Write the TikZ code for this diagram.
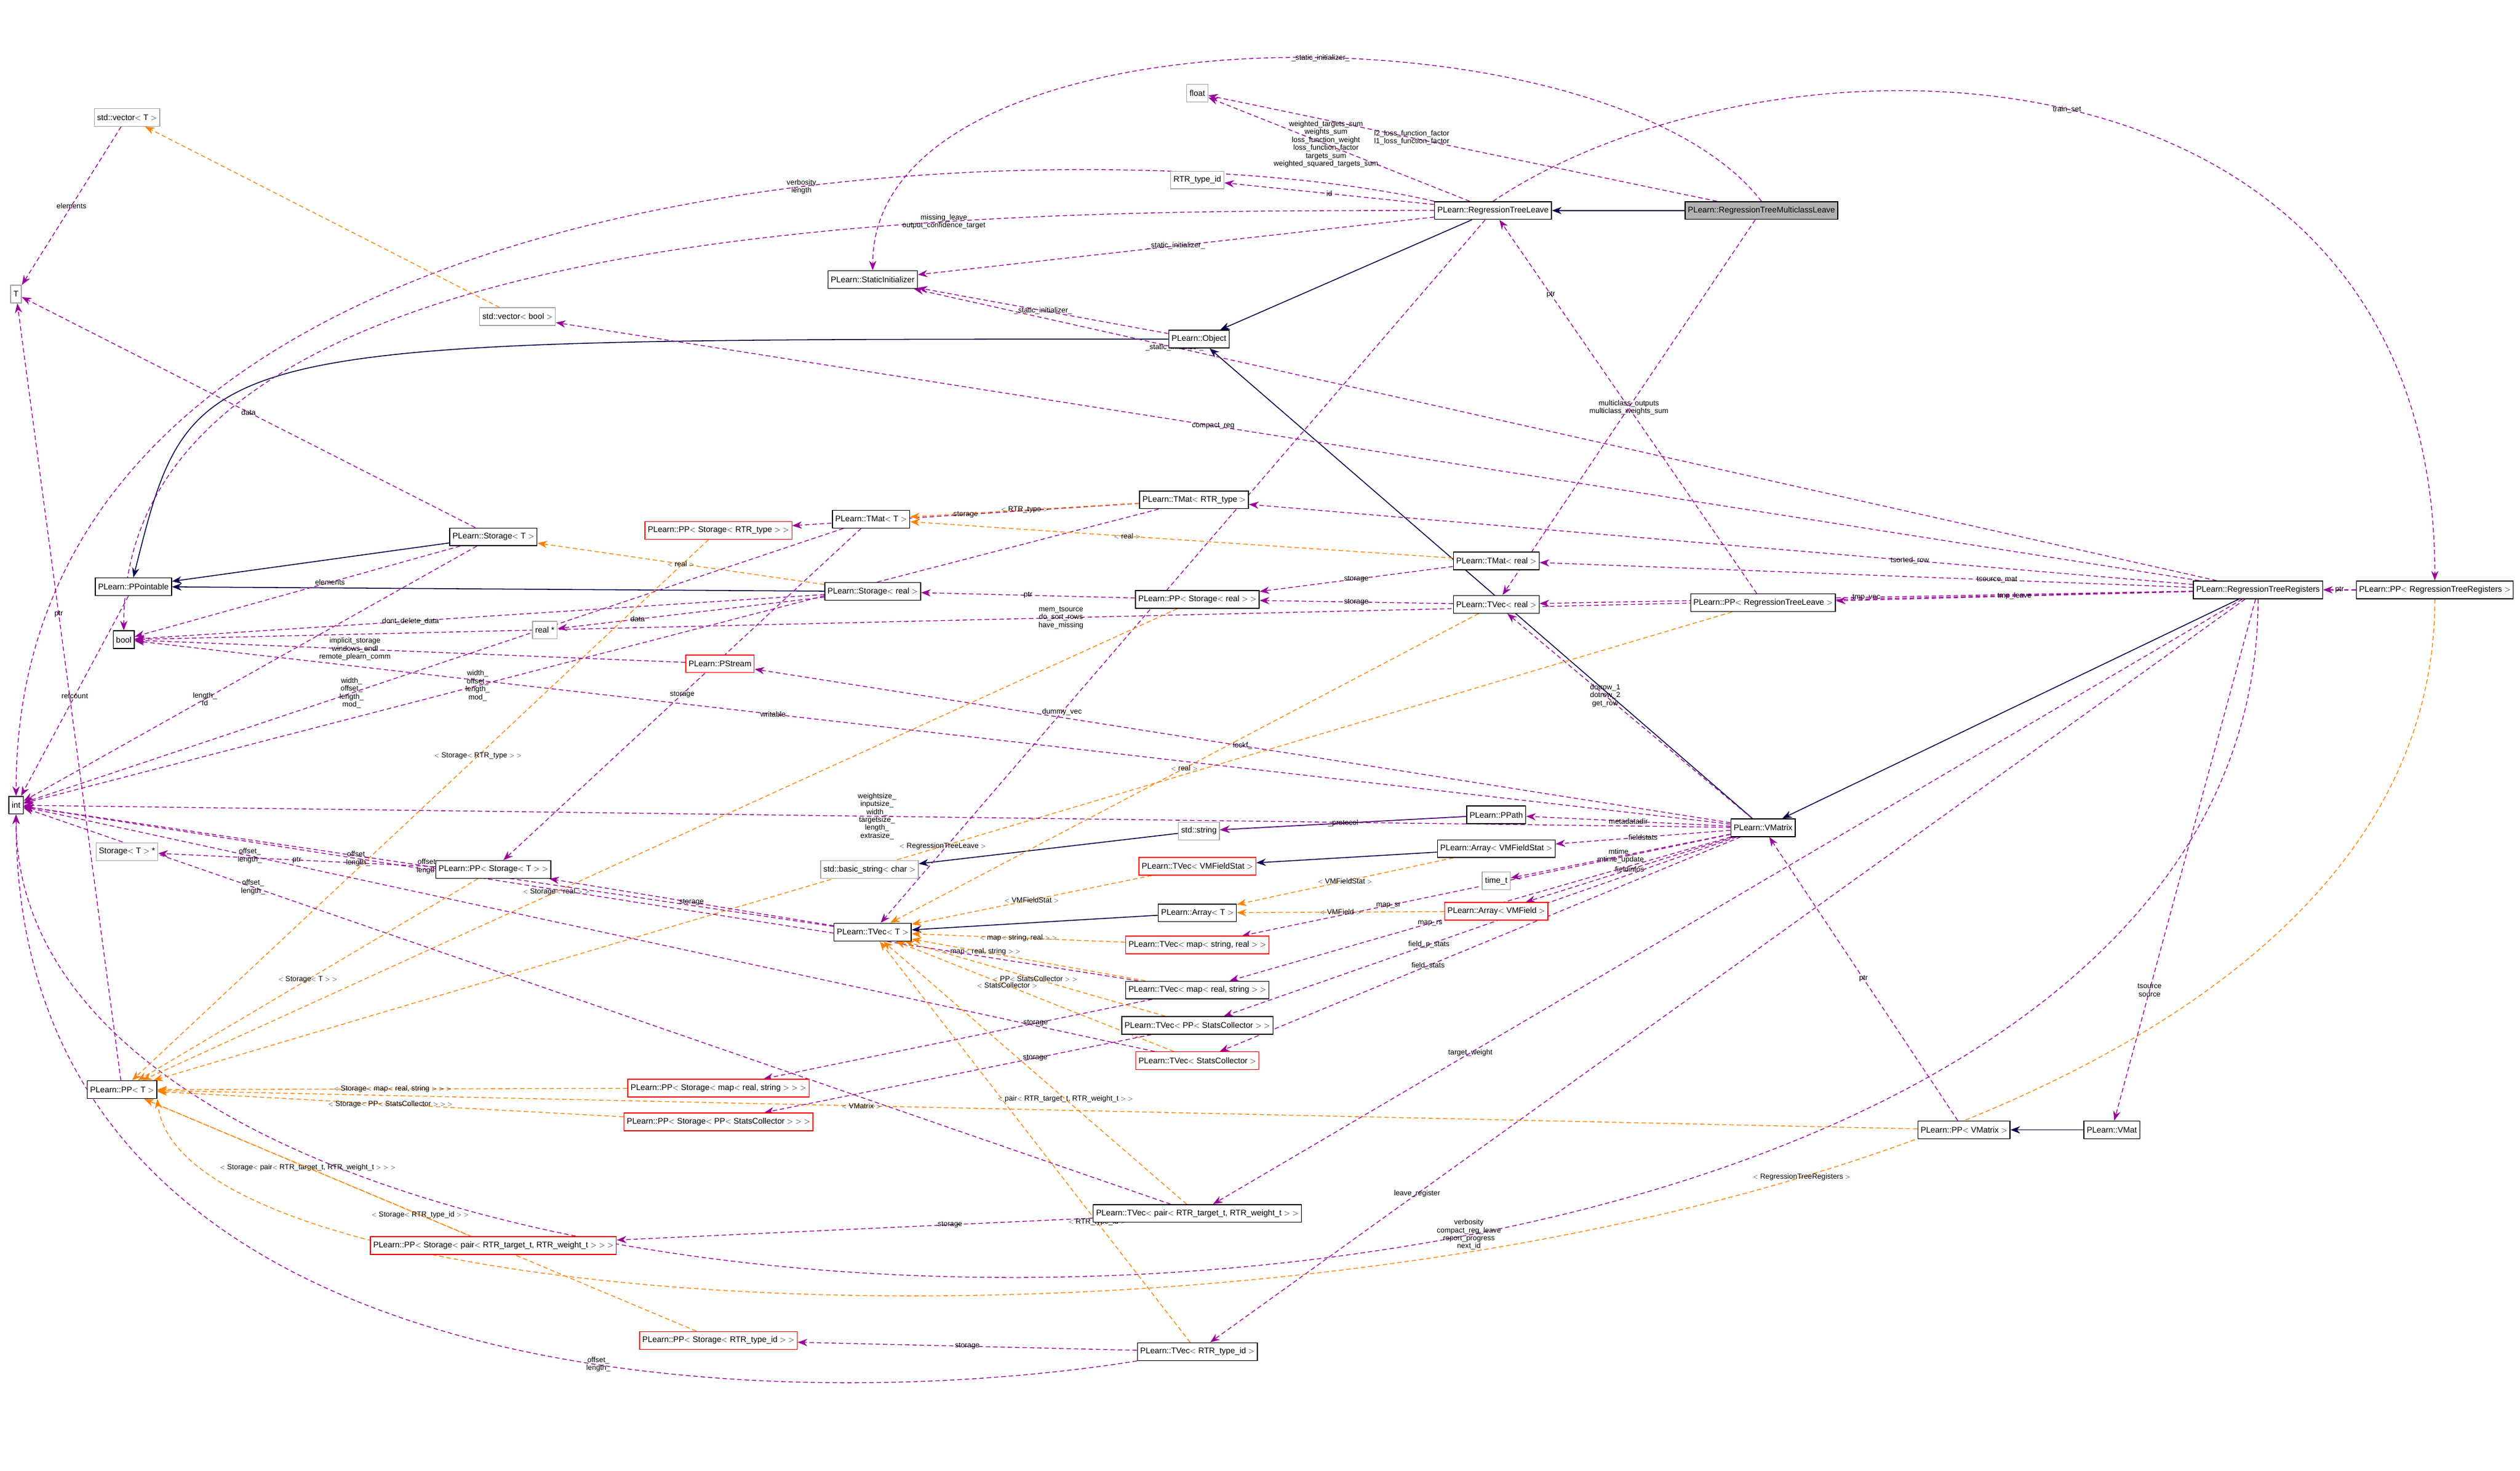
\documentclass[tikz,border=0pt]{standalone}
\usepackage{fontspec}
\setmainfont{Liberation Sans}
\usetikzlibrary{arrows.meta}
\pgfdeclarelayer{bg}
\pgfsetlayers{bg,main}
\begin{document}
\begin{tikzpicture}[x=0.1cm,y=-0.1cm,
 bx/.style={draw=black,fill=white,line width=1.5pt,inner sep=5pt,minimum height=1.1cm,font=\fontsize{14.5}{16}\selectfont},
 rbx/.style={bx,draw=red},
 gbx/.style={bx,draw=gray!70},
 hbx/.style={bx,fill=gray!60},
 u/.style={draw=violet!80!magenta,dashed,dash pattern=on 8pt off 5pt,line width=1.4pt,-{Stealth[length=0.6cm,width=0.45cm]}},
 o/.style={draw=orange,dashed,dash pattern=on 8pt off 5pt,line width=1.4pt,-{Stealth[length=0.6cm,width=0.45cm]}},
 inh/.style={draw=blue!30!black,line width=1.6pt,-{Stealth[length=0.6cm,width=0.45cm]}},
 lbl/.style={font=\fontsize{13}{14}\selectfont,align=center,inner sep=1pt}]
\useasboundingbox (0,0) rectangle (1568,915);
% nodes
\node[hbx] (mcl) at (1096,131) {PLearn::RegressionTreeMulticlassLeave};
\node[bx] (rtl) at (929,131) {PLearn::RegressionTreeLeave};
\node[gbx] (flt) at (745,58) {float};
\node[gbx] (rid) at (745,112) {RTR\_type\_id};
\node[bx] (si) at (543,174) {PLearn::StaticInitializer};
\node[bx] (obj) at (746,211) {PLearn::Object};
\node[gbx] (vecT) at (79,73) {std::vector$<$ T $>$};
\node[gbx] (T) at (10,183) {T};
\node[gbx] (vecb) at (322,197) {std::vector$<$ bool $>$};
\node[bx] (tmr) at (743,311) {PLearn::TMat$<$ RTR\_type $>$};
\node[bx] (tmT) at (542,323) {PLearn::TMat$<$ T $>$};
\node[rbx] (ppsr) at (447,330) {PLearn::PP$<$ Storage$<$ RTR\_type $>$ $>$};
\node[bx] (stT) at (307,334) {PLearn::Storage$<$ T $>$};
\node[bx] (ppt) at (83,365) {PLearn::PPointable};
\node[bx] (streal) at (543,368) {PLearn::Storage$<$ real $>$};
\node[bx] (ppsreal) at (745,373) {PLearn::PP$<$ Storage$<$ real $>$ $>$};
\node[bx] (tmreal) at (931,349) {PLearn::TMat$<$ real $>$};
\node[bx] (tvreal) at (931,376) {PLearn::TVec$<$ real $>$};
\node[bx] (pprtl) at (1097,375) {PLearn::PP$<$ RegressionTreeLeave $>$};
\node[bx] (rtr) at (1405,367) {PLearn::RegressionTreeRegisters};
\node[bx] (pprtr) at (1515,367) {PLearn::PP$<$ RegressionTreeRegisters $>$};
\node[bx] (bool) at (77,398) {bool};
\node[gbx] (realp) at (339,392) {real *};
\node[rbx] (pst) at (448,413) {PLearn::PStream};
\node[bx] (int) at (10,501) {int};
\node[bx] (ppath) at (931,507) {PLearn::PPath};
\node[gbx] (str) at (746,517) {std::string};
\node[bx] (avfs) at (931,528) {PLearn::Array$<$ VMFieldStat $>$};
\node[bx] (vm) at (1097,515) {PLearn::VMatrix};
\node[gbx] (stTp) at (79,530) {Storage$<$ T $>$ *};
\node[bx] (ppsT) at (307,541) {PLearn::PP$<$ Storage$<$ T $>$ $>$};
\node[gbx] (bstr) at (541,541) {std::basic\_string$<$ char $>$};
\node[rbx] (tvfs) at (745,539) {PLearn::TVec$<$ VMFieldStat $>$};
\node[gbx] (timet) at (931,548) {time\_t};
\node[bx] (arT) at (745,568) {PLearn::Array$<$ T $>$};
\node[rbx] (avf) at (931,567) {PLearn::Array$<$ VMField $>$};
\node[bx] (tvT) at (543,580) {PLearn::TVec$<$ T $>$};
\node[rbx] (tvmsr) at (745,588) {PLearn::TVec$<$ map$<$ string, real $>$ $>$};
\node[bx] (tvmrs) at (745,616) {PLearn::TVec$<$ map$<$ real, string $>$ $>$};
\node[bx] (tvpsc) at (745,638) {PLearn::TVec$<$ PP$<$ StatsCollector $>$ $>$};
\node[rbx] (tvsc) at (745,660) {PLearn::TVec$<$ StatsCollector $>$};
\node[bx] (ppT) at (76,678) {PLearn::PP$<$ T $>$};
\node[rbx] (ppsmrs) at (447,677) {PLearn::PP$<$ Storage$<$ map$<$ real, string $>$ $>$ $>$};
\node[rbx] (ppspsc) at (447,698) {PLearn::PP$<$ Storage$<$ PP$<$ StatsCollector $>$ $>$ $>$};
\node[bx] (ppvm) at (1222,703) {PLearn::PP$<$ VMatrix $>$};
\node[bx] (vmat) at (1314,703) {PLearn::VMat};
\node[bx] (tvpair) at (745,755) {PLearn::TVec$<$ pair$<$ RTR\_target\_t, RTR\_weight\_t $>$ $>$};
\node[rbx] (ppspair) at (307,775) {PLearn::PP$<$ Storage$<$ pair$<$ RTR\_target\_t, RTR\_weight\_t $>$ $>$ $>$};
\node[rbx] (ppsrid) at (447,834) {PLearn::PP$<$ Storage$<$ RTR\_type\_id $>$ $>$};
\node[bx] (tvrid) at (745,841) {PLearn::TVec$<$ RTR\_type\_id $>$};
\begin{pgfonlayer}{bg}
% inheritance
\draw[inh] (mcl) -- (rtl);
\draw[inh] (rtl) -- (obj);
\draw[inh] (vm) -- (obj);
\draw[inh] (rtr) -- (vm);
\draw[inh] (obj.west) .. controls (120,211) .. (ppt.north);
\draw[inh] (stT) -- (ppt);
\draw[inh] (streal) -- (ppt);
\draw[inh] (ppath) -- (str);
\draw[inh] (str) -- (bstr);
\draw[inh] (avfs) -- (tvfs);
\draw[inh] (arT) -- (tvT);
\draw[inh] (vmat) -- (ppvm);
% usage from leaves
\draw[u] (mcl) -- node[lbl,pos=0.6]{l2\_loss\_function\_factor\\l1\_loss\_function\_factor} (flt);
\draw[u] (mcl.north) .. controls (1000,0) and (543,0) .. node[lbl,pos=0.45]{\_static\_initializer\_} (si.north);
\draw[u] (mcl) -- node[lbl,pos=0.5]{multiclass\_outputs\\multiclass\_weights\_sum} (tvreal);
\draw[u] (rtl) -- node[lbl,pos=0.55]{weighted\_targets\_sum\\weights\_sum\\loss\_function\_weight\\loss\_function\_factor\\targets\_sum\\weighted\_squared\_targets\_sum} (flt);
\draw[u] (rtl) -- node[lbl]{id} (rid);
\draw[u] (rtl) -- node[lbl]{\_static\_initializer\_} (si);
\draw[u] (rtl.north west) .. controls (700,80) and (10,80) .. node[lbl,pos=0.4]{verbosity\\length} (int.north);
\draw[u] (rtl.west) .. controls (600,131) and (77,131) .. node[lbl,pos=0.3]{missing\_leave\\output\_confidence\_target} (bool.north);
\draw[u] (rtl.north) .. controls (1100,10) and (1515,10) .. node[lbl,pos=0.5]{train\_set} (pprtr.north);
\draw[u] (rtl) -- node[lbl,pos=0.7]{dummy\_vec} (tvT);
\draw[u] (obj) -- node[lbl]{\_static\_initializer\_} (si);
\draw[u] (pprtl) -- node[lbl,pos=0.8]{ptr} (rtl);
% registers
\draw[u] (rtr) -- node[lbl,pos=0.8]{\_static\_initializer\_} (si);
\draw[u] (rtr) -- node[lbl,pos=0.3]{tsorted\_row} (tmr);
\draw[u] (rtr) -- node[lbl,pos=0.3]{tsource\_mat} (tmreal);
\draw[u] (rtr) -- node[lbl,pos=0.5]{tmp\_vec} (tvreal);
\draw[u] (rtr) -- node[lbl]{tmp\_leave} (pprtl);
\draw[u] (rtr) -- node[lbl,pos=0.75]{tsource\\source} (vmat);
\draw[u] (rtr) -- node[lbl,pos=0.75]{target\_weight} (tvpair);
\draw[u] (rtr) -- node[lbl,pos=0.8]{leave\_register} (tvrid);
\draw[u] (rtr.south) .. controls (1405,910) and (10,910) .. node[lbl,pos=0.4]{verbosity\\compact\_reg\_leave\\report\_progress\\next\_id} (int.south);
\draw[u] (rtr) -- node[lbl,pos=0.6]{compact\_reg} (vecb);
\draw[u] (rtr) -- node[lbl,pos=0.55]{mem\_tsource\\do\_sort\_rows\\have\_missing} (bool);
\draw[u] (pprtr) -- node[lbl]{ptr} (rtr);
\draw[o] (pprtr.south) .. controls (1515,880) and (120,880) .. node[lbl,pos=0.35]{$<$ RegressionTreeRegisters $>$} (ppT.south east);
\draw[o] (pprtl) -- node[lbl,pos=0.5]{$<$ RegressionTreeLeave $>$} (ppT);
% vmatrix
\draw[u] (vm) -- node[lbl,pos=0.5]{lockf\_} (pst);
\draw[u] (vm) -- node[lbl,pos=0.6]{writable} (bool);
\draw[u] (vm) -- node[lbl,pos=0.5]{weightsize\_\\inputsize\_\\width\_\\targetsize\_\\length\_\\extrasize\_} (int);
\draw[u] (vm) -- node[lbl]{metadatadir} (ppath);
\draw[u] (vm) -- node[lbl]{fieldstats} (avfs);
\draw[u] (vm) -- node[lbl]{mtime\_\\mtime\_update} (timet);
\draw[u] (vm) -- node[lbl]{fieldinfos} (avf);
\draw[u] (vm) -- node[lbl,pos=0.7]{map\_sr} (tvmsr);
\draw[u] (vm) -- node[lbl,pos=0.6]{map\_rs} (tvmrs);
\draw[u] (vm) -- node[lbl,pos=0.6]{field\_p\_stats} (tvpsc);
\draw[u] (vm) -- node[lbl,pos=0.6]{field\_stats} (tvsc);
\draw[u] (vm) -- node[lbl,pos=0.6]{dotrow\_1\\dotrow\_2\\get\_row} (tvreal);
\draw[u] (ppath) -- node[lbl]{\_protocol} (str);
\draw[u] (ppvm) -- node[lbl]{ptr} (vm);
\draw[o] (ppvm) -- node[lbl,pos=0.6]{$<$ VMatrix $>$} (ppT);
% storages
\draw[u] (stT) -- node[lbl,pos=0.6]{length\_\\fd} (int);
\draw[u] (stT) -- node[lbl,pos=0.5]{data} (T);
\draw[u] (stT) -- node[lbl,pos=0.4]{elements} (bool);
\draw[u] (streal) -- node[lbl,pos=0.7]{data} (realp);
\draw[u] (streal) -- node[lbl,pos=0.6]{dont\_delete\_data} (bool);
\draw[o] (streal) -- node[lbl]{$<$ real $>$} (stT);
\draw[u] (pst) -- node[lbl,pos=0.6]{implicit\_storage\\windows\_endl\\remote\_plearn\_comm} (bool);
\draw[u] (ppt) -- node[lbl]{refcount} (int);
\draw[o] (vecb) -- (vecT);
\draw[u] (vecT) -- node[lbl]{elements} (T);
% tmats
\draw[u] (tmT) -- node[lbl,pos=0.6]{width\_\\offset\_\\length\_\\mod\_} (int);
\draw[u] (tmT) -- node[lbl,pos=0.5]{storage} (ppsT);
\draw[u] (tmr) -- node[lbl,pos=0.6]{width\_\\offset\_\\length\_\\mod\_} (int);
\draw[u] (tmr) -- node[lbl,pos=0.5]{storage} (ppsr);
\draw[o] (tmr) -- node[lbl]{$<$ RTR\_type $>$} (tmT);
\draw[u] (tmreal) -- node[lbl,pos=0.5]{storage} (ppsreal);
\draw[o] (tmreal) -- node[lbl,pos=0.6]{$<$ real $>$} (tmT);
\draw[u] (ppsreal) -- node[lbl]{ptr} (streal);
\draw[o] (ppsreal) -- node[lbl,pos=0.6]{$<$ Storage$<$ real $>$ $>$} (ppT);
\draw[o] (ppsr) -- node[lbl,pos=0.4]{$<$ Storage$<$ RTR\_type $>$ $>$} (ppT);
\draw[u] (ppsT) -- node[lbl]{ptr} (stTp);
\draw[o] (ppsT) -- node[lbl]{$<$ Storage$<$ T $>$ $>$} (ppT);
\draw[u] (ppT) -- node[lbl,pos=0.6]{ptr} (T);
% tvecs
\draw[u] (tvreal) -- node[lbl,pos=0.5]{storage} (ppsreal);
\draw[o] (tvreal) -- node[lbl,pos=0.5]{$<$ real $>$} (tvT);
\draw[u] (tvT) -- node[lbl,pos=0.5]{offset\_\\length\_} (int);
\draw[u] (tvT) -- node[lbl,pos=0.5]{storage} (ppsT);
\draw[o] (avfs) -- node[lbl]{$<$ VMFieldStat $>$} (arT);
\draw[o] (avf) -- node[lbl]{$<$ VMField $>$} (arT);
\draw[o] (tvfs) -- node[lbl]{$<$ VMFieldStat $>$} (tvT);
\draw[o] (tvmsr) -- node[lbl]{$<$ map$<$ string, real $>$ $>$} (tvT);
\draw[o] (tvmrs) -- node[lbl,pos=0.7]{$<$ map$<$ real, string $>$ $>$} (tvT);
\draw[u] (tvmrs) -- node[lbl,pos=0.3]{storage} (ppsmrs);
\draw[u] (tvmrs) -- node[lbl,pos=0.7]{offset\_\\length\_} (int);
\draw[o] (tvpsc) -- node[lbl]{$<$ PP$<$ StatsCollector $>$ $>$} (tvT);
\draw[u] (tvpsc) -- node[lbl,pos=0.3]{storage} (ppspsc);
\draw[o] (tvsc) -- node[lbl,pos=0.6]{$<$ StatsCollector $>$} (tvT);
\draw[u] (tvsc) -- node[lbl,pos=0.8]{offset\_\\length\_} (int);
\draw[o] (tvpair) -- node[lbl,pos=0.4]{$<$ pair$<$ RTR\_target\_t, RTR\_weight\_t $>$ $>$} (tvT);
\draw[u] (tvpair) -- node[lbl,pos=0.3]{storage} (ppspair);
\draw[u] (tvpair) -- node[lbl,pos=0.8]{offset\_\\length\_} (int);
\draw[o] (tvrid) -- node[lbl,pos=0.3]{$<$ RTR\_type\_id $>$} (tvT);
\draw[u] (tvrid) -- node[lbl]{storage} (ppsrid);
\draw[u] (tvrid.south west) .. controls (500,880) and (10,880) .. node[lbl,pos=0.4]{offset\_\\length\_} (int.south);
\draw[o] (ppsmrs) -- node[lbl,pos=0.5]{$<$ Storage$<$ map$<$ real, string $>$ $>$ $>$} (ppT);
\draw[o] (ppspsc) -- node[lbl,pos=0.5]{$<$ Storage$<$ PP$<$ StatsCollector $>$ $>$ $>$} (ppT);
\draw[o] (ppspair) -- node[lbl,pos=0.5]{$<$ Storage$<$ pair$<$ RTR\_target\_t, RTR\_weight\_t $>$ $>$ $>$} (ppT);
\draw[o] (ppsrid) -- node[lbl,pos=0.5]{$<$ Storage$<$ RTR\_type\_id $>$ $>$} (ppT);
\end{pgfonlayer}
\end{tikzpicture}
\end{document}
